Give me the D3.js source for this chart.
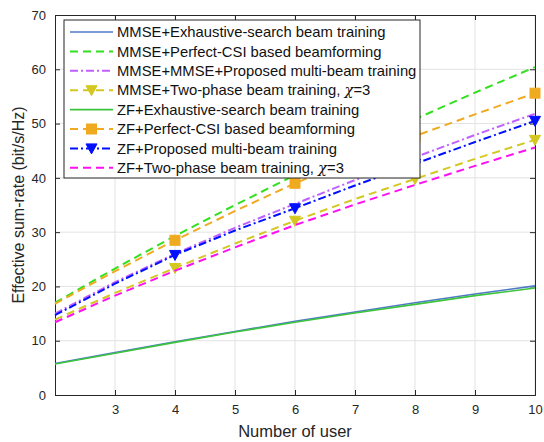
<!DOCTYPE html>
<html><head><meta charset="utf-8">
<script src="https://cdn.jsdelivr.net/npm/d3@7"></script>
<style>body{margin:0;background:#fff}svg{display:block;font-family:"Liberation Sans",Arial,sans-serif}</style>
</head><body><svg id="c" width="544" height="442"></svg>
<script>
const users = [2,3,4,5,6,7,8,9,10];
const xTicks = [3,4,5,6,7,8,9,10];
const yTicks = [0,10,20,30,40,50,60,70];
const mmseExhaustive = [5.8,7.8,9.8,11.7,13.6,15.3,17.0,18.6,20.1];
const mmsePerfect   = [17.0,23.3,29.3,35.0,40.5,45.8,50.8,55.7,60.4];
const mmseProposed  = [15.0,20.8,26.0,30.8,35.2,39.6,43.8,47.9,51.8];
const mmseTwoPhase  = [13.9,18.8,23.4,27.9,32.1,36.1,39.8,43.5,47.0];
const zfExhaustive  = [5.7,7.7,9.7,11.6,13.4,15.1,16.7,18.3,19.7];
const zfPerfect     = [16.8,22.8,28.5,33.9,39.0,43.5,47.7,51.7,55.6];
const zfProposed    = [14.7,20.5,25.8,30.3,34.4,38.6,42.6,46.6,50.5];
const zfTwoPhase    = [13.4,18.3,22.9,27.2,31.3,35.1,38.7,42.2,45.6];
const labels = [
  "MMSE+Exhaustive-search beam training",
  "MMSE+Perfect-CSI based beamforming",
  "MMSE+MMSE+Proposed multi-beam training",
  "MMSE+Two-phase beam training, |=3",
  "ZF+Exhaustive-search beam training",
  "ZF+Perfect-CSI based beamforming",
  "ZF+Proposed multi-beam training",
  "ZF+Two-phase beam training, |=3"
];
const seriesValues = [mmseExhaustive,mmsePerfect,mmseProposed,mmseTwoPhase,zfExhaustive,zfPerfect,zfProposed,zfTwoPhase];
const styles = [
  {color:"#4f7ac7", dash:null, w:1.6, marker:null},
  {color:"#33e020", dash:"8,5", w:2, marker:null},
  {color:"#c060ff", dash:"8,3,2,3", w:2, marker:null},
  {color:"#d4c820", dash:"8,5", w:2, marker:"tri"},
  {color:"#3cc43c", dash:null, w:1.6, marker:null},
  {color:"#f0aa20", dash:"8,5", w:2, marker:"sq"},
  {color:"#0010ff", dash:"8,3,2,3", w:2, marker:"tri"},
  {color:"#ff10f0", dash:"8,5", w:2, marker:null}
];
const markerX = [4,6,8,10];

const svg = d3.select("#c");
const L=55, R=535, T=15, B=395;
const x = d3.scaleLinear().domain([2,10]).range([L,R]);
const y = d3.scaleLinear().domain([0,70]).range([B,T]);

// grid
svg.append("g").selectAll("line").data(xTicks).join("line")
  .attr("x1",d=>x(d)).attr("x2",d=>x(d)).attr("y1",T).attr("y2",B)
  .attr("stroke","#e3e3e3").attr("stroke-width",1);
svg.append("g").selectAll("line").data(yTicks.filter(d=>d>0&&d<70)).join("line")
  .attr("y1",d=>y(d)).attr("y2",d=>y(d)).attr("x1",L).attr("x2",R)
  .attr("stroke","#e3e3e3").attr("stroke-width",1);

// axes
const ax = svg.append("g").attr("transform",`translate(0,${B})`)
  .call(d3.axisBottom(x).tickValues(xTicks).tickSize(-5).tickPadding(10).tickFormat(d3.format("d")));
const ay = svg.append("g").attr("transform",`translate(${L},0)`)
  .call(d3.axisLeft(y).tickValues(yTicks).tickSize(-5).tickPadding(9));
const axt = svg.append("g").attr("transform",`translate(0,${T})`)
  .call(d3.axisTop(x).tickValues(xTicks).tickSize(-5).tickFormat(""));
const ayr = svg.append("g").attr("transform",`translate(${R},0)`)
  .call(d3.axisRight(y).tickValues(yTicks).tickSize(-5).tickFormat(""));
[ax,ay,axt,ayr].forEach(g=>{
  g.select(".domain").attr("stroke","#262626").attr("stroke-width",1);
  g.selectAll(".tick line").attr("stroke","#262626");
  g.selectAll("text").attr("fill","#262626").attr("font-size",13).attr("font-family","Liberation Sans, Arial, sans-serif");
});

// lines
const line = d3.line().x((d,i)=>x(users[i])).y(d=>y(d));
const plot = svg.append("g");
function drawMarker(g, type, cx, cy, color){
  if(type==="sq"){
    g.append("rect").attr("x",cx-5).attr("y",cy-5).attr("width",10).attr("height",10)
      .attr("fill",color).attr("stroke",color);
  } else if(type==="tri"){
    g.append("path").attr("d",`M${cx-5.5},${cy-4.5}L${cx+5.5},${cy-4.5}L${cx},${cy+5.5}Z`)
      .attr("fill",color).attr("stroke",color).attr("stroke-width",1);
  }
}
seriesValues.forEach((vals,k)=>{
  const s = styles[k];
  plot.append("path").datum(vals).attr("d",line).attr("fill","none")
    .attr("stroke",s.color).attr("stroke-width",s.w)
    .attr("stroke-dasharray",s.dash);
  if(s.marker){
    markerX.forEach(u=>{
      const i = users.indexOf(u);
      drawMarker(plot, s.marker, x(u), y(vals[i]), s.color);
    });
  }
});

// legend
const lg = svg.append("g");
const LX=64, LY=20, LW=356, LH=158;
lg.append("rect").attr("x",LX).attr("y",LY).attr("width",LW).attr("height",LH)
  .attr("fill","#fff").attr("stroke","#262626").attr("stroke-width",1);
labels.forEach((lab,k)=>{
  const s = styles[k];
  const cy = 32 + k*19.4;
  lg.append("line").attr("x1",70).attr("x2",113).attr("y1",cy).attr("y2",cy)
    .attr("stroke",s.color).attr("stroke-width",s.w).attr("stroke-dasharray",s.dash);
  if(s.marker) drawMarker(lg, s.marker, 91.5, cy, s.color);
  const t = lg.append("text").attr("x",117).attr("y",cy+5.2).attr("font-size",14.8).attr("fill","#111");
  const parts = lab.split("|");
  t.append("tspan").text(parts[0]);
  if(parts.length>1){
    t.append("tspan").attr("font-family","DejaVu Serif, Liberation Serif, serif").attr("font-style","italic").text("χ");
    t.append("tspan").text(parts[1]);
  }
});

// axis labels
svg.append("text").attr("x",295).attr("y",437).attr("text-anchor","middle")
  .attr("font-size",16.5).attr("fill","#262626").text("Number of user");
svg.append("text").attr("transform","translate(24,205) rotate(-90)").attr("text-anchor","middle")
  .attr("font-size",16).attr("fill","#262626").text("Effective sum-rate (bit/s/Hz)");
</script></body></html>
